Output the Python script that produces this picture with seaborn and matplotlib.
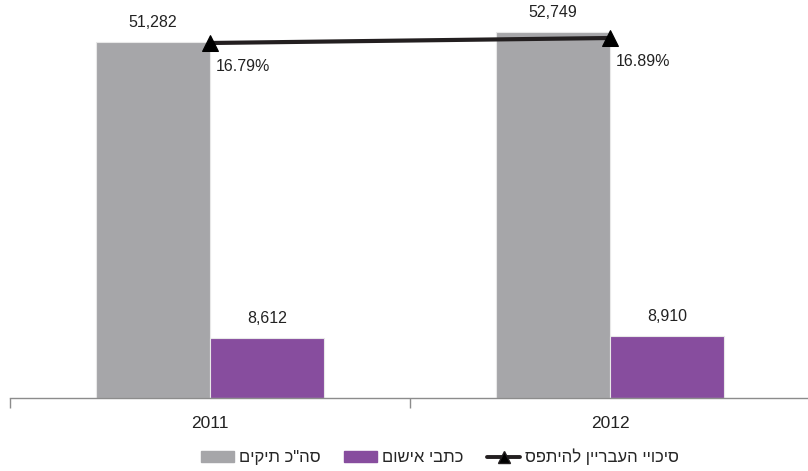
import matplotlib
matplotlib.use("Agg")
import matplotlib.pyplot as plt
import seaborn as sns
import pandas as pd
from matplotlib.patches import Patch
from matplotlib.lines import Line2D

years = ["2011", "2012"]
total_cases = [51282, 52749]
indictments = [8612, 8910]
catch_rate = [16.79, 16.89]
series_names = ['סה"כ תיקים', "כתבי אישום"]
line_name = "סיכויי העבריין להיתפס"

def vis(s):
    # matplotlib has no bidi support: reverse Hebrew into visual order
    return s[::-1]

sns.set_theme(style="white")
plt.rcParams["font.family"] = ["Liberation Sans", "DejaVu Sans"]

gray = "#a6a6a9"
purple = "#874d9e"

df = pd.DataFrame({
    "year": years * 2,
    "value": total_cases + indictments,
    "series": [series_names[0]] * 2 + [series_names[1]] * 2,
})

fig = plt.figure(figsize=(8.08, 4.71), dpi=100)
ax = fig.add_axes([10 / 808, 73 / 471, 800 / 808, 398 / 471])
sns.barplot(data=df, x="year", y="value", hue="series", palette=[gray, purple],
            width=0.57, ax=ax, legend=False, edgecolor="#e8e8e8", linewidth=0.8,
            saturation=1)
ax.set_xlim(-0.5, 1.5)
ax.set_ylim(0, 57330)
ax.set_xlabel("")
ax.set_ylabel("")
ax.set_yticks([])
for s in ["top", "left", "right"]:
    ax.spines[s].set_visible(False)
ax.spines["bottom"].set_color("#8c8c8c")
ax.spines["bottom"].set_linewidth(1)
ax.tick_params(axis="x", which="major", length=0, pad=13, labelsize=12.5, labelcolor="#222222")
ax.set_xticks([-0.5, 0.5], minor=True)
ax.tick_params(axis="x", which="minor", bottom=True, length=7, color="#8c8c8c", width=1,
               direction="out")

for cont in ax.containers:
    for bar in cont:
        h = bar.get_height()
        ax.annotate(f"{int(h):,}", (bar.get_x() + bar.get_width() / 2, h),
                    xytext=(0, 14), textcoords="offset points",
                    ha="center", va="center", fontsize=11.5, color="#222222")

ax2 = ax.twinx()
ax2.set_ylim(9.69, 17.65)
ax2.set_xlim(-0.5, 1.5)
line_df = pd.DataFrame({"x": [0, 1], "rate": catch_rate})
sns.lineplot(data=line_df, x="x", y="rate", ax=ax2, color="#231f20", linewidth=3,
             marker="^", markersize=11, markerfacecolor="black", markeredgecolor="black")
ax2.axis("off")
for i, r in enumerate(catch_rate):
    ax2.annotate(f"{r:.2f}%", (i, r), xytext=(4, -17), textcoords="offset points",
                 ha="left", va="center", fontsize=11.5, color="#222222")

handles = [
    Patch(facecolor=gray, edgecolor=gray),
    Patch(facecolor=purple, edgecolor=purple),
    Line2D([0], [0], color="#231f20", linewidth=2.8, marker="^", markersize=8,
           markerfacecolor="black"),
]
labels = [vis(series_names[0]), vis(series_names[1]), vis(line_name)]
fig.legend(handles, labels, loc="center", bbox_to_anchor=(440 / 808, 14 / 471), ncol=3,
           frameon=False, fontsize=12, handlelength=2.0, handleheight=0.6,
           handletextpad=0.3, columnspacing=1.4)

fig.savefig("out.png", dpi=100)
